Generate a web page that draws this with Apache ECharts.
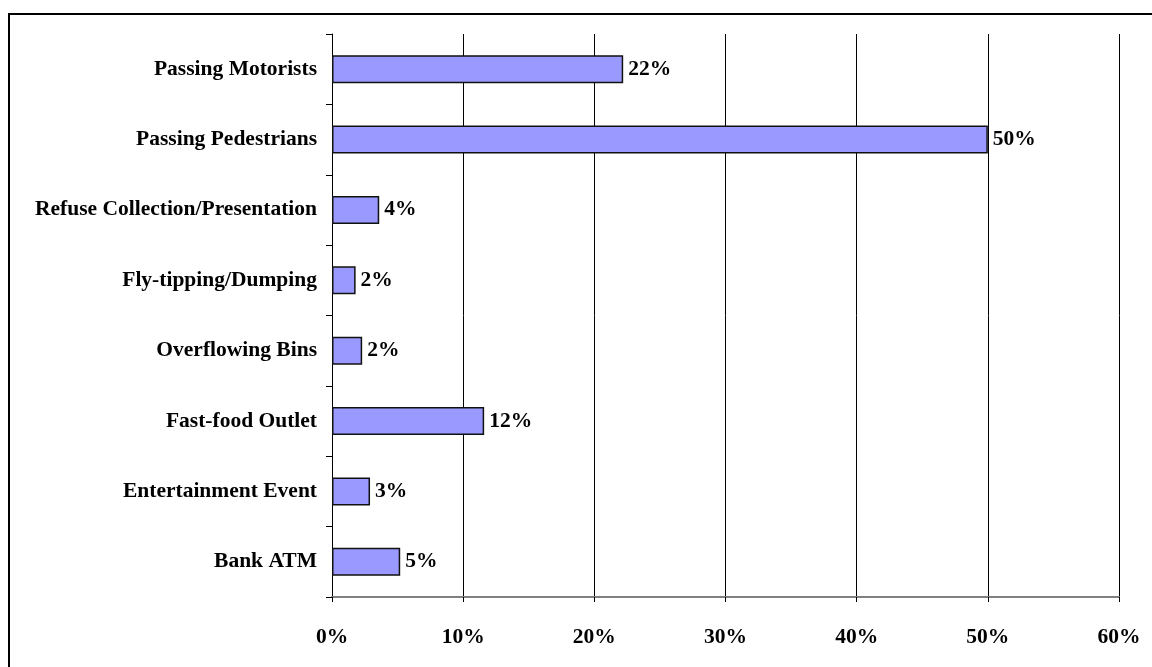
<!DOCTYPE html>
<html>
<head>
<meta charset="utf-8">
<script src="https://cdn.jsdelivr.net/npm/echarts@6/dist/echarts.min.js"></script>
<style>
  html, body { margin: 0; padding: 0; background: #fff; }
  #chart { width: 1152px; height: 667px; }
</style>
</head>
<body>
<div id="chart"></div>
<script>
// Sources of litter, share of observations (%)
const categories = [
  'Passing Motorists',
  'Passing Pedestrians',
  'Refuse Collection/Presentation',
  'Fly-tipping/Dumping',
  'Overflowing Bins',
  'Fast-food Outlet',
  'Entertainment Event',
  'Bank ATM'
];
const shares = [22.2, 50.0, 3.6, 1.8, 2.3, 11.6, 2.9, 5.2];
const xTicks = [0, 10, 20, 30, 40, 50, 60];

const font = '"Liberation Serif", "Times New Roman", serif';
const fontSize = 21.5;
const chart = echarts.init(document.getElementById('chart'), null, { renderer: 'canvas' });

chart.setOption({
  animation: false,
  backgroundColor: '#ffffff',
  graphic: [{
    type: 'rect',
    z: 100,
    shape: { x: 9, y: 14, width: 1200, height: 700 },
    style: { fill: 'none', stroke: '#000000', lineWidth: 2 },
    silent: true
  }],
  grid: { left: 332, right: 33, top: 34, bottom: 70, containLabel: false },
  xAxis: {
    type: 'value',
    min: xTicks[0],
    max: xTicks[xTicks.length - 1],
    interval: xTicks[1] - xTicks[0],
    axisLine: { show: true, lineStyle: { color: '#808080', width: 2 } },
    axisTick: { show: true, length: 5, lineStyle: { color: '#000000', width: 1 } },
    splitLine: { show: true, lineStyle: { color: '#000000', width: 1 } },
    axisLabel: {
      formatter: v => v + '%',
      fontFamily: font, fontWeight: 'bold', fontSize: fontSize, color: '#000',
      margin: 29
    }
  },
  yAxis: {
    type: 'category',
    inverse: true,
    data: categories,
    axisLine: { show: true, lineStyle: { color: '#000000', width: 1 } },
    axisTick: { show: true, length: 6, alignWithLabel: false, lineStyle: { color: '#000000' } },
    axisLabel: {
      fontFamily: font, fontWeight: 'bold', fontSize: fontSize, color: '#000',
      margin: 15
    },
    splitLine: { show: false }
  },
  series: [{
    type: 'bar',
    data: shares,
    barWidth: 28,
    itemStyle: { color: '#9999ff', borderColor: '#111111', borderWidth: 1.5 },
    label: {
      show: true,
      position: 'right',
      distance: 5,
      formatter: p => Math.round(p.value) + '%',
      fontFamily: font, fontWeight: 'bold', fontSize: fontSize, color: '#000'
    }
  }]
});
</script>
</body>
</html>
